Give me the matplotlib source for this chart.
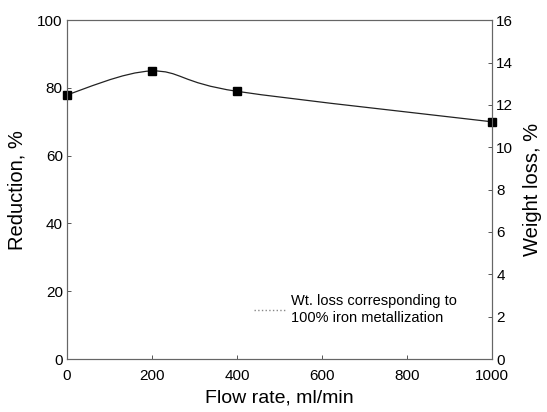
import matplotlib
matplotlib.use('Agg')
import matplotlib.pyplot as plt
from matplotlib.path import Path
from matplotlib.patches import PathPatch
from matplotlib.lines import Line2D

plt.rcParams['font.family'] = ['Liberation Sans', 'DejaVu Sans']

# data
flow_rate = [0, 200, 400, 1000]
reduction = [78, 85, 79, 70]
x_ticks = [0, 200, 400, 600, 800, 1000]
left_ticks = [0, 20, 40, 60, 80, 100]
right_ticks = [0, 2, 4, 6, 8, 10, 12, 14, 16]
legend_text = 'Wt. loss corresponding to\n100% iron metallization'

fig = plt.figure(figsize=(5.47, 4.12), dpi=100)
ax = fig.add_axes([0.1225, 0.1286, 0.777, 0.8225])
ax2 = ax.twinx()

# smooth curve through the points (Catmull-Rom as cubic Bezier)
pts = list(zip(flow_rate, reduction))
ext = [pts[0]] + pts + [pts[-1]]
verts = [pts[0]]
codes = [Path.MOVETO]
for i in range(1, len(ext) - 2):
    p0, p1, p2, p3 = ext[i - 1], ext[i], ext[i + 1], ext[i + 2]
    c1 = (p1[0] + (p2[0] - p0[0]) / 6, p1[1] + (p2[1] - p0[1]) / 6)
    c2 = (p2[0] - (p3[0] - p1[0]) / 6, p2[1] - (p3[1] - p1[1]) / 6)
    verts += [c1, c2, p2]
    codes += [Path.CURVE4] * 3
ax.add_patch(PathPatch(Path(verts, codes), facecolor='none',
                       edgecolor='#222222', linewidth=0.9, zorder=3))
ax.plot(flow_rate, reduction, linestyle='none', marker='s', markersize=6,
        color='black', zorder=4, clip_on=False)

ax.set_xlim(0, 1000)
ax.set_ylim(0, 100)
ax2.set_ylim(0, 16)
ax.set_xticks(x_ticks)
ax.set_yticks(left_ticks)
ax2.set_yticks(right_ticks)

for a in (ax, ax2):
    a.tick_params(direction='in', length=3, width=0.7, color='#555555',
                  labelsize=11, pad=3)
    for s in a.spines.values():
        s.set_color('#666666')
        s.set_linewidth(0.8)
ax.tick_params(axis='x', pad=7)

ax.set_xlabel('Flow rate, ml/min', fontsize=14, labelpad=5)
ax.set_ylabel('Reduction, %', fontsize=14.5, labelpad=8)
ax2.set_ylabel('Weight loss, %', fontsize=14.5, labelpad=7)

handle = Line2D([], [], linestyle=':', color='#888888', linewidth=1)
ax.legend([handle], [legend_text], loc='lower left',
          bbox_to_anchor=(0.41, 0.063), frameon=False, fontsize=10.5,
          handlelength=2.2, handletextpad=0.3)

fig.savefig('out.png', dpi=100, facecolor='white')
